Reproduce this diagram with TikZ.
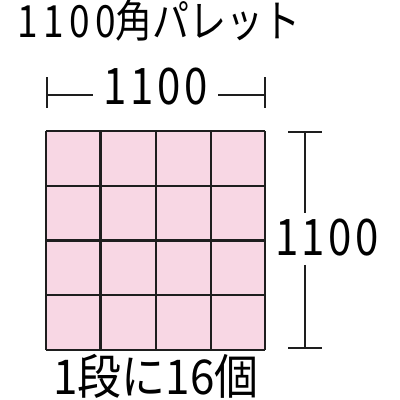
\documentclass[tikz,border=0pt]{standalone}
\usepackage{fontspec}
\setmainfont{Noto Sans CJK JP}
\newcommand{\spdig}[2]{{\addfontfeature{LetterSpace=#1}#2}}
\definecolor{cellpink}{RGB}{248,215,228}
\definecolor{gridline}{RGB}{30,30,30}
\tikzset{
  txt/.style={inner sep=0pt, font=#1},
  dimline/.style={line width=1.6pt, draw=gridline},
  gridln/.style={line width=2.6pt, draw=gridline},
}
\begin{document}
\begin{tikzpicture}[x=1pt,y=1pt]
\useasboundingbox (0,0) rectangle (400,400);
% grid
\fill[cellpink] (46,50) rectangle (265,269);
\foreach \x in {46,100.7,156,211,265} \draw[gridln] (\x,50) -- (\x,269);
\foreach \y in {50,105,159.3,214,269} \draw[gridln] (46,\y) -- (265,\y);
% title
\node[txt={\fontsize{37}{37}\selectfont}, anchor=base west, yscale=1.2, transform shape] (title) at (17,362) {\spdig{15}{1100}角パレット};
% top dimension
\coordinate (tl) at (47,305);
\coordinate (tr) at (265,305);
\node[txt={\fontsize{42}{42}\selectfont}, anchor=base, yscale=1.2, transform shape] (topdim) at (155.5,295) {\spdig{9}{1100}};
\draw[dimline] (47,292) -- (47,323);
\draw[dimline] (265,292) -- (265,323);
\draw[dimline] (tl) -- (93,305);
\draw[dimline] (218,305) -- (tr);
% right dimension
\coordinate (rt) at (305,268);
\coordinate (rb) at (305,52);
\node[txt={\fontsize{42}{42}\selectfont}, anchor=base, yscale=1.2, transform shape] (rightdim) at (327,145) {\spdig{8}{1100}};
\draw[dimline] (288,268) -- (322,268);
\draw[dimline] (288,52) -- (322,52);
\draw[dimline] (rt) -- (305,187);
\draw[dimline] (305,135) -- (rb);
% bottom text
\node[txt={\fontsize{44}{44}\selectfont}, anchor=base, yscale=1.09, transform shape] (bottom) at (156,5) {1段に16個};
\end{tikzpicture}
\end{document}
